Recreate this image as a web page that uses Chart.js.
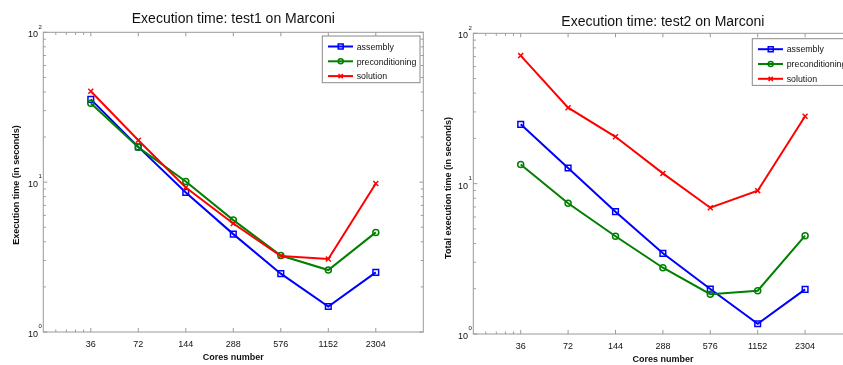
<!DOCTYPE html>
<html>
<head>
<meta charset="utf-8">
<script src="https://cdn.jsdelivr.net/npm/chart.js@4.4.1/dist/chart.umd.min.js"></script>
<style>
  html, body { margin: 0; padding: 0; background: #fff; overflow: hidden; width: 843px; height: 365px; }
  canvas { position: absolute; top: 0; }
  #c1 { left: 0; }
  #c2 { left: 430px; }
</style>
</head>
<body>
<canvas id="c1" width="445" height="365"></canvas>
<canvas id="c2" width="445" height="365"></canvas>
<script>
// Core counts and their axis labels
const cores = [36, 72, 144, 288, 576, 1152, 2304];
const coreLabels = ['36', '72', '144', '288', '576', '1152', '2304'];
// Short tick marks below the first labelled core count
const coreMinorTicks = [21.6, 25.2, 28.8, 32.4];

// Decade ticks of the time axis, printed as 10^exp
const timeDecades = [1, 10, 100];
const timeExponents = ['0', '1', '2'];

const seriesNames = ['assembly', 'preconditioning', 'solution'];

// test1 timings (seconds)
const test1Assembly = [35.7, 17.2, 8.54, 4.5, 2.45, 1.48, 2.5];
const test1Precond  = [33.6, 17.1, 10.1, 5.58, 3.24, 2.59, 4.62];
const test1Solution = [40.4, 19.05, 9.21, 5.3, 3.21, 3.07, 9.8];

// test2 timings (seconds)
const test2Assembly = [24.8, 12.7, 6.51, 3.44, 1.99, 1.17, 1.98];
const test2Precond  = [13.4, 7.41, 4.47, 2.76, 1.84, 1.94, 4.51];
const test2Solution = [71.1, 32.0, 20.5, 11.7, 6.92, 8.98, 28.1];

const FONT = '"Liberation Sans", Arial, Helvetica, sans-serif';
const AXIS_GREY = '#9a9a9a';
const TEXT = '#111';

function makeDatasets(a, p, s) {
  const pts = v => cores.map((c, i) => ({ x: c, y: v[i] }));
  return [
    { label: seriesNames[0], data: pts(a), borderColor: '#0000ff', pointStyle: 'rect', pointRadius: 4, order: 2 },
    { label: seriesNames[1], data: pts(p), borderColor: '#008000', pointStyle: 'circle', pointRadius: 3, order: 1 },
    { label: seriesNames[2], data: pts(s), borderColor: '#ff0000', pointStyle: 'crossRot', pointRadius: 3.5, order: 0 }
  ].map(d => Object.assign(d, {
    borderWidth: 2,
    backgroundColor: 'rgba(0,0,0,0)',
    pointBorderColor: d.borderColor,
    pointBackgroundColor: 'rgba(255,255,255,0)',
    pointBorderWidth: 1.5,
    pointHoverRadius: d.pointRadius,
    tension: 0
  }));
}

// Axes frame, inward ticks, labels and the boxed legend
const framePlugin = {
  id: 'frame',
  beforeDatasetsDraw(chart) {
    const o = chart.options.plugins.frame;
    const { ctx, chartArea: a } = chart;
    const xs = chart.scales.x, ys = chart.scales.y;
    ctx.save();
    ctx.strokeStyle = AXIS_GREY;
    ctx.lineWidth = 1;
    ctx.strokeRect(a.left, a.top, a.right - a.left, a.bottom - a.top);
    ctx.beginPath();
    const major = 4, minor = 2.5;
    cores.forEach(c => {
      const x = xs.getPixelForValue(c);
      ctx.moveTo(x, a.bottom); ctx.lineTo(x, a.bottom - major);
      ctx.moveTo(x, a.top); ctx.lineTo(x, a.top + major);
    });
    coreMinorTicks.forEach(c => {
      const x = xs.getPixelForValue(c);
      ctx.moveTo(x, a.bottom); ctx.lineTo(x, a.bottom - minor);
      ctx.moveTo(x, a.top); ctx.lineTo(x, a.top + minor);
    });
    timeDecades.forEach((d, i) => {
      const y = ys.getPixelForValue(d);
      ctx.moveTo(a.left, y); ctx.lineTo(a.left + major, y);
      ctx.moveTo(a.right, y); ctx.lineTo(a.right - major, y);
      if (i < timeDecades.length - 1) {
        for (let m = 2; m <= 9; m++) {
          const ym = ys.getPixelForValue(d * m);
          ctx.moveTo(a.left, ym); ctx.lineTo(a.left + minor, ym);
          ctx.moveTo(a.right, ym); ctx.lineTo(a.right - minor, ym);
        }
      }
    });
    ctx.stroke();

    ctx.fillStyle = TEXT;
    // core-count tick labels
    ctx.font = '9px ' + FONT;
    ctx.textAlign = 'center';
    ctx.textBaseline = 'alphabetic';
    cores.forEach((c, i) => {
      ctx.fillText(coreLabels[i], xs.getPixelForValue(c), a.bottom + 14.5);
    });
    // decade labels with superscript exponent
    timeDecades.forEach((d, i) => {
      const y = ys.getPixelForValue(d);
      ctx.font = '9px ' + FONT;
      ctx.textAlign = 'right';
      ctx.fillText('10', a.left - 5.3, y + 5);
      ctx.font = '6px ' + FONT;
      ctx.textAlign = 'left';
      ctx.fillText(timeExponents[i], a.left - 4.8, y - 3.8);
    });
    // title
    ctx.font = '14px ' + FONT;
    ctx.textAlign = 'center';
    ctx.fillText(o.title, (a.left + a.right) / 2, o.titleBaseline);
    // axis titles
    ctx.font = 'bold 9px ' + FONT;
    ctx.fillText('Cores number', (a.left + a.right) / 2, a.bottom + 27.7);
    ctx.save();
    ctx.translate(o.yTitleX, o.yTitleY);
    ctx.rotate(-Math.PI / 2);
    ctx.fillText(o.yTitle, 0, 0);
    ctx.restore();
    ctx.restore();
  },
  afterDatasetsDraw(chart) {
    const o = chart.options.plugins.frame;
    const ctx = chart.ctx;
    const bx = o.legendX, by = o.legendY, bw = 97.7, bh = 46.7;
    ctx.save();
    ctx.fillStyle = '#fff';
    ctx.fillRect(bx, by, bw, bh);
    ctx.strokeStyle = '#8a8a8a';
    ctx.lineWidth = 1;
    ctx.strokeRect(bx, by, bw, bh);
    chart.data.datasets.forEach((ds, i) => {
      const y = by + 10.5 + i * 14.8;
      ctx.strokeStyle = ds.borderColor;
      ctx.lineWidth = 2;
      ctx.beginPath();
      ctx.moveTo(bx + 5.7, y); ctx.lineTo(bx + 30.7, y);
      ctx.stroke();
      ctx.lineWidth = 1.5;
      ctx.fillStyle = 'rgba(255,255,255,0)';
      Chart.helpers.drawPoint(ctx, {
        pointStyle: ds.pointStyle, radius: ds.pointRadius - 0.5, rotation: 0, borderWidth: 1.5
      }, bx + 18.4, y);
      ctx.fillStyle = TEXT;
      ctx.font = '8.8px ' + FONT;
      ctx.textAlign = 'left';
      ctx.fillText(ds.label, bx + 34.4, y + 3.2);
    });
    ctx.restore();
  }
};

function makeChart(id, datasets, frame, area) {
  const canvas = document.getElementById(id);
  const W = canvas.width, H = canvas.height;
  return new Chart(canvas, {
    type: 'line',
    data: { datasets },
    options: {
      responsive: false,
      animation: false,
      devicePixelRatio: 1,
      layout: { padding: { left: 0, top: area.top, right: W - area.right, bottom: 0 } },
      plugins: { legend: { display: false }, tooltip: { enabled: false }, frame },
      scales: {
        x: {
          type: 'logarithmic', min: 18, max: 4608,
          grid: { display: false }, border: { display: false },
          ticks: { display: false },
          afterFit(s) { s.height = H - area.bottom; }
        },
        y: {
          type: 'logarithmic', min: 1, max: 100,
          grid: { display: false }, border: { display: false },
          ticks: { display: false },
          afterFit(s) { s.width = area.left; }
        }
      }
    },
    plugins: [framePlugin]
  });
}

makeChart('c1', makeDatasets(test1Assembly, test1Precond, test1Solution), {
  title: 'Execution time: test1 on Marconi', titleBaseline: 22.7,
  yTitle: 'Execution time (in seconds)', yTitleX: 19.3, yTitleY: 185,
  legendX: 322.3, legendY: 36
}, { left: 43.3, right: 423.3, top: 32.3, bottom: 332 });

makeChart('c2', makeDatasets(test2Assembly, test2Precond, test2Solution), {
  title: 'Execution time: test2 on Marconi', titleBaseline: 25.6,
  yTitle: 'Total execution time (in seconds)', yTitleX: 21, yTitleY: 188,
  legendX: 322.3, legendY: 38.7
}, { left: 43.3, right: 422.5, top: 33.3, bottom: 334 });
</script>
</body>
</html>
